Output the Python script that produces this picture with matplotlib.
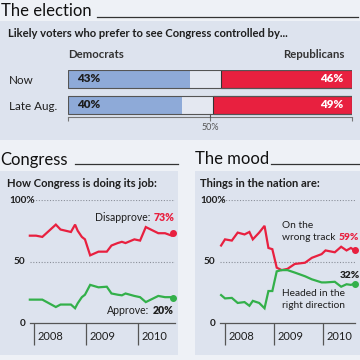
import matplotlib
matplotlib.use("Agg")
import matplotlib.pyplot as plt
from matplotlib.patches import Rectangle
from matplotlib.lines import Line2D

plt.rcParams['font.family'] = ['Lato', 'DejaVu Sans']

# --- data -------------------------------------------------------------
rows = ["Now", "Late Aug."]
dem_share = [43, 40]
rep_share = [46, 49]

congress_dates = [2007.92, 2008.04, 2008.16, 2008.42, 2008.51, 2008.71, 2008.79,
                  2008.84, 2008.92, 2008.98, 2009.08, 2009.24, 2009.40, 2009.49,
                  2009.61, 2009.69, 2009.76, 2009.93, 2010.04, 2010.15, 2010.39,
                  2010.52, 2010.65, 2010.68]
disapprove = [71, 71, 70, 80, 76, 74, 80, 75, 70, 68, 55, 58, 58, 63,
              65, 66, 65, 68, 67, 78, 73, 73, 71, 73]
approve = [19, 19, 19, 13, 15, 15, 12, 16, 21, 23, 31, 29, 29.5, 24,
           23, 22.5, 24, 22, 21, 17, 22, 21, 21, 20]

mood_dates = [2007.92, 2008.00, 2008.14, 2008.26, 2008.40, 2008.50, 2008.57,
              2008.70, 2008.81, 2008.89, 2008.97, 2009.06, 2009.16, 2009.28,
              2009.43, 2009.64, 2009.78, 2009.98, 2010.06, 2010.25, 2010.38,
              2010.49, 2010.58, 2010.66]
wrong_track = [63, 68, 67, 73.5, 72, 74, 68, 73.5, 79, 61, 60, 45, 43, 44,
               48, 49, 53, 56, 59, 57.5, 62, 59, 61, 59]
right_dir = [22.7, 20, 20.4, 16.3, 17, 14, 18, 16.3, 12, 26, 26, 42, 43, 43,
             41, 38, 35.5, 33, 33, 33.5, 29.5, 31.5, 31, 32]

years = [2008, 2009, 2010]

# --- colours ----------------------------------------------------------
BG = '#eef1f6'
PANEL = '#dde3ee'
BLUE = '#8eaad8'
GREY = '#e4e8f1'
RED = '#e8203f'
GREEN = '#33b04a'
INK = '#1e1e1e'

W = H = 360
fig = plt.figure(figsize=(3.6, 3.6), dpi=100)
fig.patch.set_facecolor(BG)
renderer = fig.canvas.get_renderer()


def fx(x):
    return x / W


def fy(y):
    return 1 - y / H


def px_rect(l, t, r, b):
    return [fx(l), fy(b), (r - l) / W, (b - t) / H]


def txt(x, y, s, **kw):
    kw.setdefault('color', INK)
    kw.setdefault('va', 'center')
    return fig.text(fx(x), fy(y), s, **kw)


def label_before(t, s, gap=3, **kw):
    # put text s just left of an existing text t
    bb = t.get_window_extent(renderer)
    x, y = t.get_position()
    return txt(bb.x0 - gap, (1 - y) * H, s, ha='right', **kw)


def hline(x0, x1, y, **kw):
    fig.add_artist(Line2D([fx(x0), fx(x1)], [fy(y), fy(y)], **kw))


# panels
for l, t, r, b in [(0, 21, 360, 140), (0, 171, 178, 355), (195, 171, 360, 355)]:
    fig.add_artist(Rectangle((fx(l), fy(b)), (r - l) / W, (b - t) / H,
                             facecolor=PANEL, edgecolor='none', zorder=0))

# section titles
TSIZE = 12
txt(1, 11, "The election", fontsize=TSIZE, color='#111111')
hline(97, 358, 16.5, color='#333333', lw=0.9)
txt(0, 159.5, "Congress", fontsize=TSIZE, color='#111111')
hline(75, 178, 164.5, color='#333333', lw=0.9)
txt(195, 158.5, "The mood", fontsize=TSIZE, color='#111111')
hline(271, 360, 164.5, color='#333333', lw=0.9)

# --- election bars ----------------------------------------------------
txt(8, 33.5, "Likely voters who prefer to see Congress controlled by...",
    fontsize=8.1, fontweight='bold')
txt(68, 54.5, "Democrats", fontsize=8.2, fontweight='bold', color='#333333')
txt(344, 54.5, "Republicans", fontsize=8.2, fontweight='bold', color='#333333',
    ha='right')

ax = fig.add_axes(px_rect(68, 70, 352, 117))
ax.set_facecolor('none')
ypos = list(range(len(rows)))
bh = 18 / 26
ax.barh(ypos, [100] * len(rows), height=bh, color=GREY, zorder=1)
ax.barh(ypos, dem_share, height=bh, color=BLUE, zorder=2)
ax.barh(ypos, rep_share, left=[100 - r for r in rep_share], height=bh,
        color=RED, edgecolor='#333333', linewidth=0.8, zorder=3)
ax.barh(ypos, [100] * len(rows), height=bh, fill=False,
        edgecolor='#555555', linewidth=0.8, zorder=4)
for i, (d, r) in enumerate(zip(dem_share, rep_share)):
    ax.text(3.2, i, f"{d}%", fontsize=8.4, fontweight='heavy', color=INK,
            va='center', zorder=5)
    ax.text(97, i, f"{r}%", fontsize=8.4, fontweight='heavy', color='white',
            va='center', ha='right', zorder=5)
ax.set_xlim(0, 100)
ax.set_ylim(1 + 12 / 26, -9 / 26)
for s in ['top', 'right', 'left']:
    ax.spines[s].set_visible(False)
ax.spines['bottom'].set_color('#777777')
ax.spines['bottom'].set_linewidth(0.8)
ax.set_yticks([])
ax.set_xticks([0, 50, 100])
ax.set_xticklabels(['', '50%', ''])
ax.tick_params(axis='x', length=3, width=0.8, color='#777777', pad=1,
               labelsize=6.5, labelcolor='#555555')
ax.plot([50, 50], [1 + 9 / 26, 1 + 12 / 26], color='#555555', lw=0.8,
        zorder=4, clip_on=False)
for i, r in enumerate(rows):
    txt(9, 80 + 26 * i, r, fontsize=8.4, color=INK)


# --- line charts ------------------------------------------------------
def line_panel(l, r, x0, yr_w, dates, series, colours, ylabel_x, ylab_100_x):
    ax = fig.add_axes(px_rect(l, 200, r, 323))
    ax.set_facecolor('none')
    ax.set_xlim(2008 - (x0 - l) / yr_w, 2008 + (r - x0) / yr_w)
    ax.set_ylim(0, 100)
    for vals, c in zip(series, colours):
        ax.plot(dates, vals, color=c, lw=1.6, clip_on=False,
                solid_joinstyle='miter', zorder=3)
        ax.plot(dates[-1], vals[-1], 'o', color=c, ms=4, clip_on=False, zorder=4)
    for g in (50, 100):
        ax.axhline(g, color='#8a8f99', lw=0.8, ls=(0, (1, 1.5)), zorder=1)
    for s in ['top', 'right', 'left']:
        ax.spines[s].set_visible(False)
    ax.spines['bottom'].set_color('#555555')
    ax.spines['bottom'].set_linewidth(0.9)
    ax.set_yticks([])
    ax.set_xticks(years)
    ax.set_xticklabels([])
    ax.tick_params(axis='x', length=16, width=0.9, color='#555555', direction='out')
    for yv in years:
        ax.text(yv + 4 / yr_w, -11, str(yv), fontsize=8, color=INK,
                va='center', ha='left', clip_on=False)
    txt(ylab_100_x, 200.5, "100%", fontsize=7.2, fontweight='bold', ha='left')
    txt(ylabel_x, 261, "50", fontsize=7.2, fontweight='bold', ha='right')
    txt(ylabel_x, 323, "0", fontsize=7.2, fontweight='bold', ha='right')
    return ax


LSIZE = 7.6
MSIZE = 7.3

# Congress
txt(7, 183.5, "How Congress is doing its job:", fontsize=8.1, fontweight='bold')
line_panel(30, 175, 34, 52, congress_dates, [disapprove, approve],
           [RED, GREEN], 25.5, 9.5)
v = txt(174, 218, f"{disapprove[-1]}%", fontsize=LSIZE, fontweight='heavy',
        color=RED, ha='right')
label_before(v, "Disapprove:", fontsize=LSIZE)
v = txt(174, 310, f"{approve[-1]}%", fontsize=LSIZE, fontweight='heavy', ha='right')
label_before(v, "Approve:", gap=4, fontsize=LSIZE)

# Mood
txt(200.5, 183.5, "Things in the nation are:", fontsize=8.1, fontweight='bold')
line_panel(220, 355, 225, 48.8, mood_dates, [wrong_track, right_dir],
           [RED, GREEN], 215.5, 200.5)
txt(282.5, 226, "On the", fontsize=MSIZE)
txt(282.5, 237, "wrong track", fontsize=MSIZE)
txt(359.5, 237, f"{wrong_track[-1]}%", fontsize=MSIZE, fontweight='heavy',
    color=RED, ha='right')
txt(359.5, 275, f"{right_dir[-1]}%", fontsize=MSIZE, fontweight='heavy', ha='right')
txt(282.5, 294, "Headed in the", fontsize=MSIZE)
txt(282.5, 305, "right direction", fontsize=MSIZE)

fig.savefig("out.png", dpi=100, facecolor=BG)
